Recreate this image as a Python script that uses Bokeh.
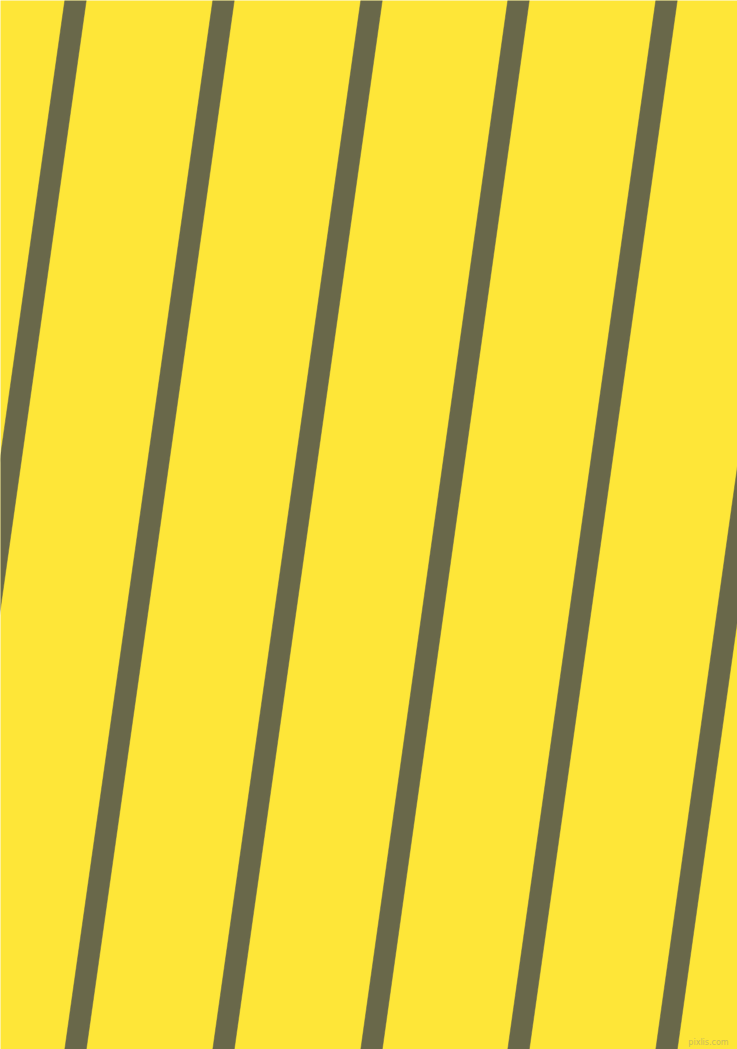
from bokeh.plotting import figure
from bokeh.models import Range1d, ColumnDataSource
from bokeh.embed import file_html
from bokeh.resources import INLINE
from bokeh.core.properties import value

# Pattern data (reference pixel space 737 x 1049, y downward)
stripe_top_x = [75, 223, 371, 518, 666, 813]      # stripe centre at y = 0
stripe_bottom_x = [-73, 75, 223, 371, 518, 666]   # stripe centre at y = 1049
stripe_width = 21.5
canvas_w, canvas_h = 737, 1049
bg_color = "#fee638"
stripe_color = "#69684a"
watermark = "pixlis.com"

p = figure(width=canvas_w, height=canvas_h,
           x_range=Range1d(0, canvas_w),
           y_range=Range1d(canvas_h, 0),
           output_backend="svg", toolbar_location=None,
           min_border=0, min_border_left=0, min_border_right=0,
           min_border_top=0, min_border_bottom=0)
p.axis.visible = False
p.grid.visible = False
p.outline_line_color = None
p.background_fill_color = bg_color
p.border_fill_color = bg_color

xs, ys = [], []
h = stripe_width / 2
for t, b in zip(stripe_top_x, stripe_bottom_x):
    xs.append([t - h, t + h, b + h, b - h])
    ys.append([0, 0, canvas_h, canvas_h])
src = ColumnDataSource(dict(xs=xs, ys=ys))
p.patches("xs", "ys", source=src, fill_color=stripe_color, line_color=stripe_color, line_width=0.5)

p.text(x=[708], y=[1046], text=[watermark], text_font=value("DejaVu Sans"),
       text_font_size="8px", text_color="#c9bd5a", text_align="center",
       text_baseline="bottom")

open("out.html", "w").write(file_html(p, INLINE))
